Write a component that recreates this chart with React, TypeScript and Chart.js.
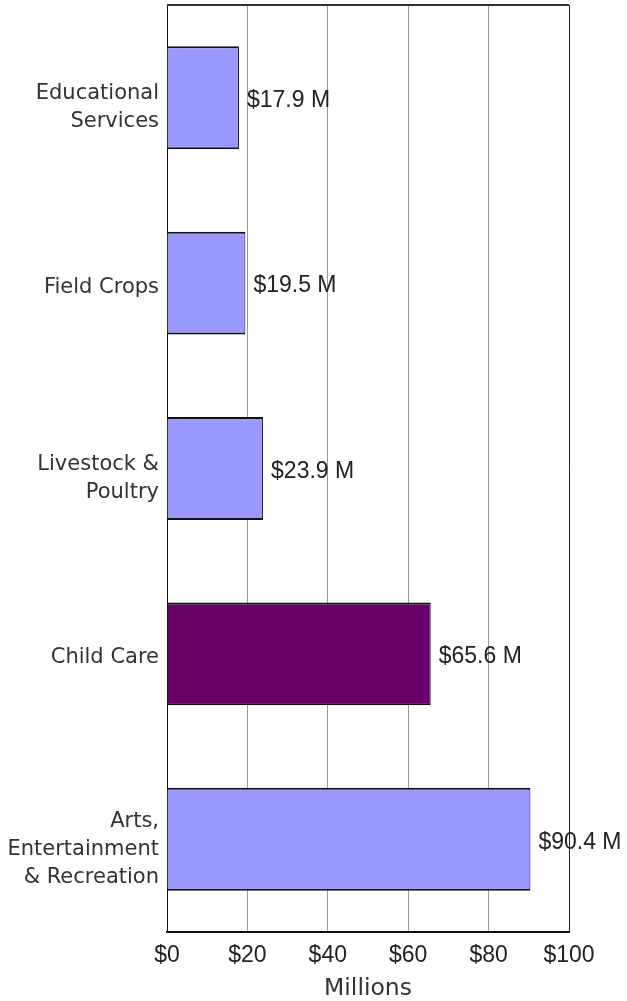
import React, { useEffect, useRef } from "react";
import { Chart, registerables } from "chart.js";

Chart.register(...registerables);

const categories: string[][] = [
  ["Educational", "Services"],
  ["Field Crops"],
  ["Livestock &", "Poultry"],
  ["Child Care"],
  ["Arts,", "Entertainment", "& Recreation"],
];
const values: number[] = [17.9, 19.5, 23.9, 65.6, 90.4];
const valueLabels: string[] = ["$17.9 M", "$19.5 M", "$23.9 M", "$65.6 M", "$90.4 M"];
const barColors: string[] = ["#9999ff", "#9999ff", "#9999ff", "#660066", "#9999ff"];
const xTicks: number[] = [0, 20, 40, 60, 80, 100];
const axisTitle = "Millions";

const labelPlugin = {
  id: "valueLabels",
  afterDatasetsDraw(chart: any) {
    const ctx = chart.ctx;
    const meta = chart.getDatasetMeta(0);
    ctx.save();
    ctx.font = '23px "Liberation Sans", Arial, sans-serif';
    ctx.fillStyle = "#222";
    ctx.textAlign = "left";
    ctx.textBaseline = "middle";
    meta.data.forEach((bar: any, i: number) => {
      ctx.fillText(valueLabels[i], bar.x + 8, bar.y + 3);
    });
    ctx.restore();
  },
};

const categoryLabelPlugin = {
  id: "categoryLabels",
  afterDraw(chart: any) {
    const ctx = chart.ctx;
    const yScale = chart.scales.y;
    const lineH = 28;
    ctx.save();
    ctx.font = '21px "DejaVu Sans", Verdana, sans-serif';
    ctx.fillStyle = "#333";
    ctx.textAlign = "right";
    ctx.textBaseline = "middle";
    categories.forEach((lines, i) => {
      const y = yScale.getPixelForTick(i);
      const n = lines.length;
      const shift = n > 1 ? 10 : 4;
      const start = y - ((n - 1) * lineH) / 2 + shift;
      lines.forEach((line, j) => {
        ctx.fillText(line, yScale.right - 8, start + j * lineH);
      });
    });
    ctx.restore();
  },
};

const framePlugin = {
  id: "frame",
  afterDatasetsDraw(chart: any) {
    const { ctx, chartArea } = chart;
    ctx.save();
    ctx.strokeStyle = "#333";
    ctx.lineWidth = 2;
    ctx.beginPath();
    ctx.moveTo(chartArea.left, chartArea.top);
    ctx.lineTo(chartArea.right, chartArea.top);
    ctx.stroke();
    ctx.lineWidth = 1;
    ctx.strokeStyle = "#222";
    ctx.beginPath();
    ctx.moveTo(chartArea.right + 0.5, chartArea.top);
    ctx.lineTo(chartArea.right + 0.5, chartArea.bottom);
    ctx.stroke();
    ctx.restore();
  },
};

export default function App() {
  const ref = useRef<HTMLCanvasElement>(null);
  useEffect(() => {
    document.body.style.margin = "0";
    const chart = new Chart(ref.current!, {
      type: "bar",
      data: {
        labels: categories,
        datasets: [
          {
            data: values,
            backgroundColor: barColors,
            borderColor: "#111",
            borderWidth: { top: 2, bottom: 2, right: 1, left: 0 },
            borderSkipped: false,
            categoryPercentage: 1,
            barPercentage: 0.555,
          },
        ],
      },
      options: {
        indexAxis: "y",
        responsive: false,
        animation: false,
        layout: { padding: { left: 0, right: 58, top: 5, bottom: 0 } },
        plugins: { legend: { display: false }, tooltip: { enabled: false } },
        scales: {
          x: {
            min: 0,
            max: 100,
            afterFit(scale: any) {
              scale.height = 69;
              scale.paddingLeft = 0;
              scale.paddingRight = 0;
            },
            afterBuildTicks(scale: any) {
              scale.ticks = xTicks.map((v) => ({ value: v }));
            },
            ticks: {
              padding: 10,
              color: "#222",
              font: { family: '"Liberation Sans", Arial, sans-serif', size: 23 },
              callback: (v: any) => "$" + v,
            },
            grid: { color: "#999", drawTicks: false, lineWidth: 1 },
            border: { color: "#111", width: 2 },
            title: {
              display: true,
              text: axisTitle,
              color: "#333",
              padding: { top: 0, bottom: 0 },
              font: { family: '"DejaVu Sans", Verdana, sans-serif', size: 23.5, lineHeight: 1 },
            },
          },
          y: {
            afterFit(scale: any) {
              scale.width = 167;
              scale.paddingTop = 0;
              scale.paddingBottom = 0;
            },
            ticks: { display: false },
            grid: { display: false, drawTicks: false },
            border: { color: "#111", width: 1 },
          },
        },
      },
      plugins: [labelPlugin, categoryLabelPlugin, framePlugin],
    } as any);
    return () => chart.destroy();
  }, []);
  return (
    <canvas
      ref={ref}
      width={627}
      height={1001}
      style={{ position: "fixed", left: 0, top: 0, display: "block" }}
    />
  );
}
